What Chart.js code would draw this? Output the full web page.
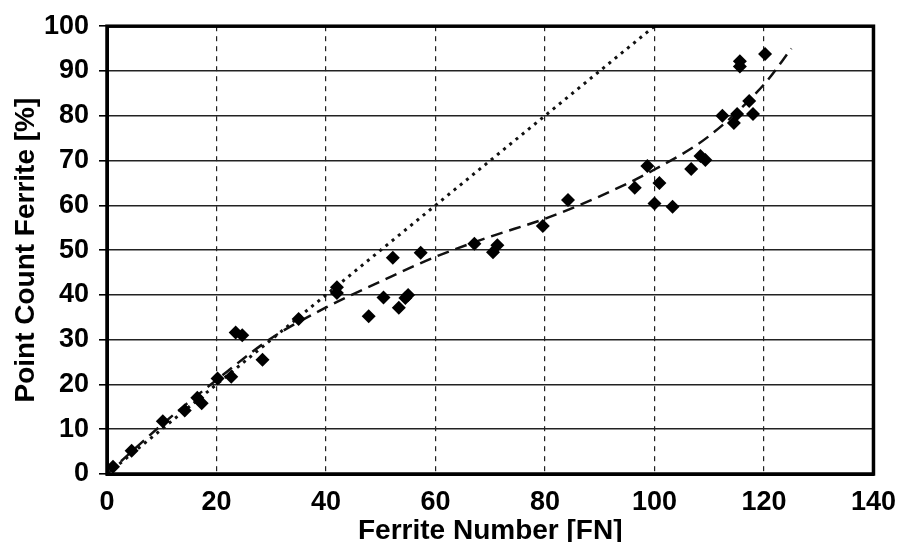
<!DOCTYPE html>
<html>
<head>
<meta charset="utf-8">
<script src="https://cdn.jsdelivr.net/npm/chart.js@4/dist/chart.umd.min.js"></script>
<style>
  html, body { margin: 0; padding: 0; background: #fff; }
  #wrap { width: 908px; height: 542px; }
</style>
</head>
<body>
<div id="wrap"><canvas id="c" width="908" height="542"></canvas></div>
<script>
// Measured data (Ferrite Number FN vs Point Count Ferrite %)
const measFN = [1.1, 4.5, 10.2, 14.2, 16.5, 17.3, 20.2, 22.7, 23.5, 24.7, 28.4, 35.0,
  42.0, 42.0, 47.8, 50.5, 52.2, 53.3, 54.5, 55.0, 57.3, 67.1, 70.5, 71.3, 79.6, 84.2,
  96.4, 98.7, 100.0, 100.9, 103.3, 106.7, 108.4, 109.3, 112.4, 114.5, 115.1, 115.6,
  115.6, 117.3, 118.0, 120.2];
const measPC = [1.6, 5.2, 11.8, 14.2, 17.0, 15.8, 21.3, 21.7, 31.6, 31.0, 25.5, 34.6,
  41.7, 40.4, 35.2, 39.4, 48.3, 37.1, 39.3, 40.0, 49.4, 51.4, 49.5, 51.1, 55.4, 61.2,
  63.9, 68.8, 60.4, 65.0, 59.7, 68.1, 71.0, 70.1, 80.0, 78.4, 80.4, 92.2, 91.0, 83.3,
  80.4, 93.8];

// Fitted trend curve (dashed)
const fitFN = [0, 10, 20, 30, 40, 50, 60, 70, 80, 90, 100, 110, 120, 125];
const fitPC = [0, 11, 21, 30.3, 37.2, 43, 48.5, 53, 57, 62, 68, 75.5, 87, 95];

// 1:1 reference line (dotted)
const refFN = [0, 100];
const refPC = [0, 100];

// Axis ranges
const xMin = 0, xMax = 140, xStep = 20;
const yMin = 0, yMax = 100, yStep = 10;

const toXY = (xs, ys) => xs.map((x, i) => ({ x: x, y: ys[i] }));

const frame = {
  id: 'frame',
  afterDraw(chart) {
    const a = chart.chartArea, ctx = chart.ctx;
    ctx.save();
    ctx.strokeStyle = '#000';
    ctx.lineWidth = 3.5;
    ctx.strokeRect(a.left, a.top, a.right - a.left, a.bottom - a.top);
    ctx.restore();
  }
};

const FONT = "'Liberation Sans', Arial, sans-serif";

new Chart(document.getElementById('c'), {
  type: 'scatter',
  data: {
    datasets: [
      {
        label: '1:1',
        data: toXY(refFN, refPC),
        showLine: true,
        borderColor: '#111',
        borderWidth: 3,
        borderDash: [3, 5],
        pointRadius: 0,
        fill: false,
        order: 3
      },
      {
        label: 'Fit',
        data: toXY(fitFN, fitPC),
        showLine: true,
        borderColor: '#111',
        borderWidth: 2.5,
        borderDash: [12, 7],
        cubicInterpolationMode: 'monotone',
        pointRadius: 0,
        fill: false,
        order: 2
      },
      {
        label: 'Measured',
        data: toXY(measFN, measPC),
        pointStyle: 'rectRot',
        pointRadius: 7,
        backgroundColor: '#000',
        borderColor: '#000',
        borderWidth: 0,
        showLine: false,
        order: 1
      }
    ]
  },
  options: {
    responsive: false,
    animation: false,
    events: [],
    layout: { padding: { top: 25, right: 28, left: 0, bottom: 0 } },
    plugins: { legend: { display: false }, tooltip: { enabled: false } },
    scales: {
      x: {
        type: 'linear',
        min: xMin, max: xMax,
        ticks: { stepSize: xStep, color: '#000', padding: 12,
          font: { family: FONT, size: 27, weight: 'bold' } },
        grid: { color: '#222', lineWidth: 1.2, drawTicks: false },
        border: { display: true, color: '#000', width: 3, dash: [5, 5] },
        title: { display: true, text: 'Ferrite Number [FN]', color: '#000',
          font: { family: FONT, size: 28, weight: 'bold', lineHeight: 1 },
          padding: { top: 0, bottom: -3 } },
        afterFit(scale) { scale.height = 68; }
      },
      y: {
        type: 'linear',
        min: yMin, max: yMax,
        ticks: { stepSize: yStep, color: '#000', padding: 10,
          font: { family: FONT, size: 27, weight: 'bold' } },
        grid: { color: '#222', lineWidth: 1.6, drawTicks: true, tickLength: 8, tickColor: '#000' },
        border: { display: true, color: '#000', width: 3 },
        title: { display: true, text: 'Point Count Ferrite [%]', color: '#000',
          font: { family: FONT, size: 28, weight: 'bold', lineHeight: 1 },
          padding: { top: 12, bottom: 0 } },
        afterFit(scale) { scale.width = 107; }
      }
    }
  },
  plugins: [frame]
});
</script>
</body>
</html>
